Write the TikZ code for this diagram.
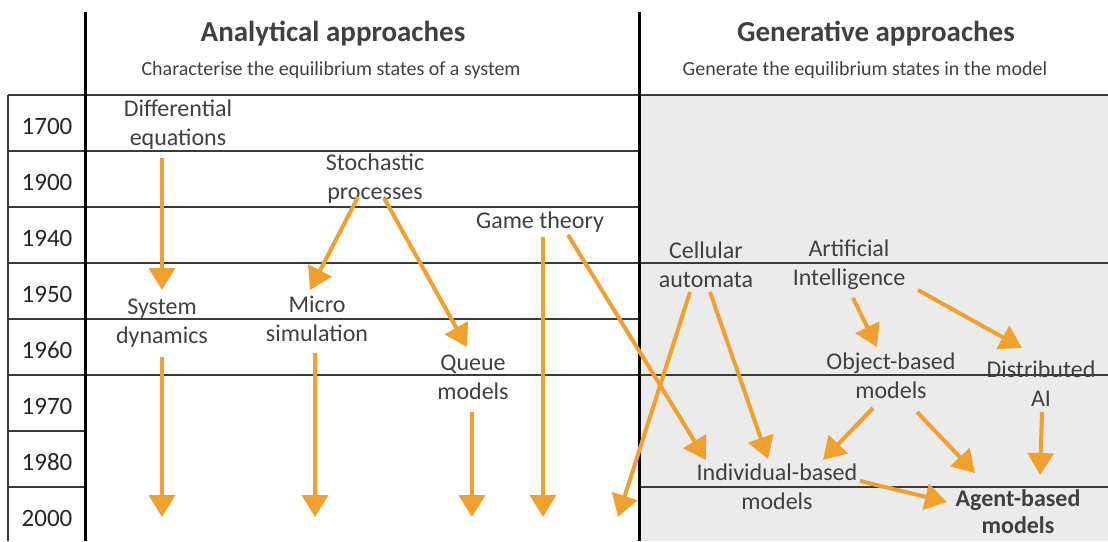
\documentclass[tikz,border=0pt]{standalone}
\usepackage{fontspec}
\setmainfont{Carlito}
\usetikzlibrary{arrows.meta}
\definecolor{txt}{HTML}{404040}
\definecolor{orng}{HTML}{EFA02D}
\definecolor{greyfill}{HTML}{EBEBEB}
\definecolor{rulecol}{HTML}{3A3A3A}
\tikzset{
  lbl/.style={align=center, text=txt, inner sep=0pt, font=\fontsize{24}{29}\selectfont},
  yr/.style={text=black!85, inner sep=0pt, font=\fontsize{25}{28}\selectfont},
  ttl/.style={text=txt, inner sep=0pt, font=\fontsize{29}{33}\selectfont\bfseries},
  sub/.style={text=txt, inner sep=0pt, font=\fontsize{20}{24}\selectfont},
  gridline/.style={draw=rulecol, line width=1.3pt},
  sepline/.style={draw=black, line width=3pt},
  flow/.style={draw=orng, line width=4pt, -{Triangle[width=26pt,length=22pt]}},
}
\begin{document}
\begin{tikzpicture}[x=1pt,y=-1pt]
\useasboundingbox (0,0) rectangle (1108,541);
\fill[white] (0,0) rectangle (1108,541);
% shaded generative area
\fill[greyfill] (639,95) rectangle (1108,541);
% grid lines
\foreach \yy in {95,151,207,263,319,375} \draw[gridline] (8,\yy) -- (639,\yy);
\foreach \yy in {431,487} \draw[gridline] (8,\yy) -- (85,\yy);
\foreach \yy in {95,263,375,487} \draw[gridline] (639,\yy) -- (1108,\yy);
\draw[gridline] (8,95) -- (8,541);
% thick separators
\draw[sepline] (85,12) -- (85,541);
\draw[sepline] (639,12) -- (639,541);

% headings
\node[ttl] (ana) at (333,34) {Analytical approaches};
\node[sub] (anasub) at (331,70) {Characterise the equilibrium states of a system};
\node[ttl] (gen) at (876,34) {Generative approaches};
\node[sub] (gensub) at (865,70) {Generate the equilibrium states in the model};

% years
\node[yr] (y1700) at (47,126) {1700};
\node[yr] (y1900) at (47,182) {1900};
\node[yr] (y1940) at (47,238) {1940};
\node[yr] (y1950) at (47,294) {1950};
\node[yr] (y1960) at (47,350) {1960};
\node[yr] (y1970) at (47,406) {1970};
\node[yr] (y1980) at (47,462) {1980};
\node[yr] (y2000) at (47,518) {2000};

% approaches
\node[lbl] (diff) at (178,125) {Differential\\equations};
\node[lbl] (stoch) at (375,179) {Stochastic\\processes};
\node[lbl] (game) at (540,222) {Game theory};
\node[lbl] (sysdyn) at (162,323) {System\\dynamics};
\node[lbl] (micro) at (317,319) {Micro\\simulation};
\node[lbl] (queue) at (473,377) {Queue\\models};
\node[lbl] (cell) at (706,265) {Cellular\\automata};
\node[lbl] (ai) at (849,265) {Artificial\\Intelligence};
\node[lbl] (obj) at (891,376) {Object-based\\models};
\node[lbl] (dai) at (1041,384) {Distributed\\AI};
\node[lbl] (ind) at (777,487) {Individual-based\\models};
\node[lbl, font=\fontsize{24}{27}\selectfont\bfseries] (agent) at (1018,512) {Agent-based\\models};

% free ends in the 2000 row
\coordinate (gEnd) at (543,517);
\coordinate (cEnd) at (618,517);
\coordinate (sEnd) at (162,517);
\coordinate (mEnd) at (315,517);
\coordinate (qEnd) at (472,517);

% connectors
\draw[flow] ([shift={(-16,33)}]diff.center) -- ([shift={(0,-33)}]sysdyn.center);
\draw[flow] ([shift={(-17,18)}]stoch.center) -- ([shift={(-7,-29)}]micro.center);
\draw[flow] ([shift={(9,19)}]stoch.center) -- ([shift={(-6,-30)}]queue.center);
\draw[flow] ([shift={(3,15)}]game.center) -- (gEnd);
\draw[flow] ([shift={(28,13)}]game.center) -- ([shift={(-71,-27)}]ind.center);
\draw[flow] ([shift={(-16,27)}]cell.center) -- (cEnd);
\draw[flow] ([shift={(4,27)}]cell.center) -- ([shift={(-9,-28)}]ind.center);
\draw[flow] ([shift={(0,34)}]sysdyn.center) -- (sEnd);
\draw[flow] ([shift={(-2,34)}]micro.center) -- (mEnd);
\draw[flow] ([shift={(-1,35)}]queue.center) -- (qEnd);
\draw[flow] ([shift={(4,33)}]ai.center) -- ([shift={(-14,-29)}]obj.center);
\draw[flow] ([shift={(69,25)}]ai.center) -- ([shift={(-19,-36)}]dai.center);
\draw[flow] ([shift={(-18,32)}]obj.center) -- ([shift={(46,-27)}]ind.center);
\draw[flow] ([shift={(26,36)}]obj.center) -- ([shift={(-43,-39)}]agent.center);
\draw[flow] ([shift={(1,28)}]dai.center) -- ([shift={(22,-37)}]agent.center);
\draw[flow] ([shift={(83,-6)}]ind.center) -- ([shift={(-71,-10)}]agent.center);
\end{tikzpicture}
\end{document}
